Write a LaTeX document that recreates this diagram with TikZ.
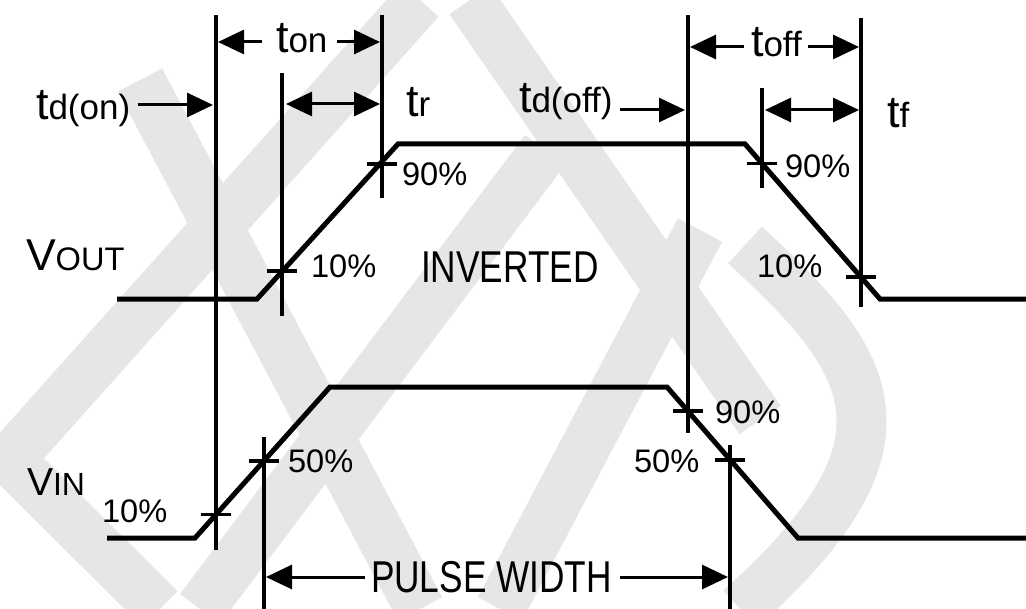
\documentclass[tikz,border=0pt]{standalone}
\usepackage{fontspec}
\setmainfont{Liberation Sans}
\newfontfamily\narrowfont[FakeStretch=0.79]{Liberation Sans}
\usetikzlibrary{arrows.meta}
\definecolor{wm}{HTML}{E6E6E6}
\tikzset{
  mark band/.style={line width=25pt, wm, line cap=butt, line join=round},
  wave/.style={line width=2.5pt, line join=miter},
  guide/.style={line width=1.6pt},
  tick/.style={line width=1.6pt},
  dim/.style={line width=1.5pt, -{Triangle[length=13pt,width=12pt]}},
  dimboth/.style={line width=1.5pt, {Triangle[length=13pt,width=12pt]}-{Triangle[length=13pt,width=12pt]}},
  lbl/.style={anchor=base west, inner sep=0pt, outer sep=0pt},
  pct/.style={lbl, font=\fontsize{16.3}{19}\selectfont},
  big/.style={lbl, font=\narrowfont\fontsize{22.3}{26}\selectfont},
}
\newcommand{\tsym}[1]{{\fontsize{22.5}{26}\selectfont t}{\fontsize{17.5}{20}\selectfont #1}}
\begin{document}
\begin{tikzpicture}[x=0.5pt,y=-0.5pt]
\useasboundingbox (0,0) rectangle (1026,609);
% watermark (light grey bands)
\draw[mark band] (140,80) -- (420,609);
\draw[mark band] (420,0) -- (0,470);
\draw[mark band] (0,450) -- (160,609);
\draw[mark band] (200,609) -- (545,150);
\draw[mark band] (470,0) -- (760,420);
\draw[mark band] (500,609) -- (700,230);
\draw[mark band] (745,245) .. controls (870,360) and (930,440) .. (740,609);
% waveforms
\draw[wave] (117,299) -- (257,299) -- (398,144) -- (745,144) -- (880,299) -- (1026,299);
\draw[wave] (107,538) -- (195,538) -- (330,387) -- (667,387) -- (798,538) -- (1026,538);
% guide lines
\coordinate (Atop) at (216,15);  \coordinate (Abot) at (216,550);
\coordinate (Btop) at (282,73);  \coordinate (Bbot) at (282,316);
\coordinate (Ctop) at (382,15);  \coordinate (Cbot) at (382,198);
\coordinate (Dtop) at (688,15);  \coordinate (Dbot) at (688,433);
\coordinate (Etop) at (861,18);  \coordinate (Ebot) at (861,307);
\coordinate (Ftop) at (762,88);  \coordinate (Fbot) at (762,188);
\coordinate (Gtop) at (264,437); \coordinate (Gbot) at (264,609);
\coordinate (Htop) at (730,445); \coordinate (Hbot) at (730,609);
\foreach \n in {A,B,C,D,E,F,G,H} \draw[guide] (\n top) -- (\n bot);
% ticks
\foreach \x/\y in {282/271, 382/164, 762/163.5, 861/277, 216/514.5, 264/461, 688/411, 730/460}
  \draw[tick] (\x-15,\y) -- (\x+15,\y);
% dimension arrows
\coordinate (tdonS) at (138,105); \coordinate (tdonE) at (213,105);
\draw[dim] (tdonS) -- (tdonE);
\coordinate (tonL) at (262,42); \coordinate (tonLt) at (218,42);
\coordinate (tonR) at (337,42); \coordinate (tonRt) at (380,42);
\draw[dim] (tonL) -- (tonLt);
\draw[dim] (tonR) -- (tonRt);
\coordinate (trL) at (286,104); \coordinate (trR) at (380,104);
\draw[dimboth] (trL) -- (trR);
\coordinate (tdoffS) at (620,110); \coordinate (tdoffE) at (685,110);
\draw[dim] (tdoffS) -- (tdoffE);
\coordinate (toffL) at (744,47); \coordinate (toffLt) at (690,47);
\coordinate (toffR) at (808,47); \coordinate (toffRt) at (859,47);
\draw[dim] (toffL) -- (toffLt);
\draw[dim] (toffR) -- (toffRt);
\coordinate (tfL) at (765,110); \coordinate (tfR) at (859,110);
\draw[dimboth] (tfL) -- (tfR);
\coordinate (pwL) at (365,577); \coordinate (pwLt) at (266,577);
\coordinate (pwR) at (620,577); \coordinate (pwRt) at (728,577);
\draw[dim] (pwL) -- (pwLt);
\draw[dim] (pwR) -- (pwRt);
% labels
\node[lbl] (ltdon) at (36,120) {\tsym{d(on)}};
\node[lbl] (lton) at (276,53) {\tsym{on}};
\node[lbl] (ltr) at (406,117) {\tsym{r}};
\node[lbl] (ltdoff) at (519,113) {\tsym{d(off)}};
\node[lbl] (ltoff) at (751,57) {\tsym{off}};
\node[lbl] (ltf) at (887,128) {\tsym{f}};
\node[pct] (p1) at (402,185) {90\%};
\node[pct] (p2) at (311,277) {10\%};
\node[pct] (p3) at (785,177) {90\%};
\node[pct] (p4) at (757,277) {10\%};
\node[pct] (p5) at (102,522) {10\%};
\node[pct] (p6) at (288,472) {50\%};
\node[pct] (p7) at (715,423) {90\%};
\node[pct] (p8) at (634,472) {50\%};
\node[big] (inv) at (421,282) {INVERTED};
\node[big] (pw) at (371,592) {PULSE WIDTH};
\node[lbl] (vout) at (26,270) {{\fontsize{22.3}{26}\selectfont V}{\fontsize{16.3}{19}\selectfont OUT}};
\node[lbl] (vin) at (27,495) {{\fontsize{19.5}{22}\selectfont V}{\fontsize{16}{19}\selectfont IN}};
\end{tikzpicture}
\end{document}
